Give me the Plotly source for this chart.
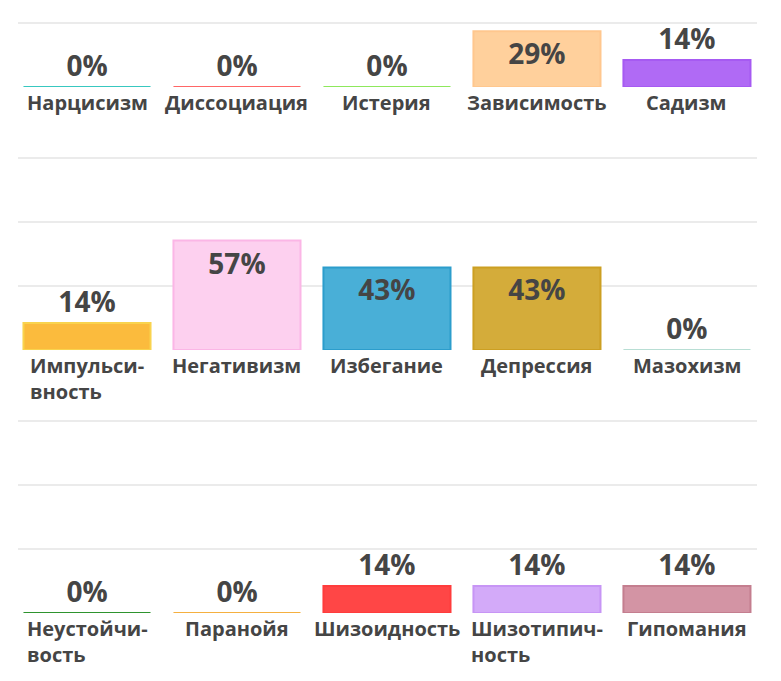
import plotly.graph_objects as go

# three rows of five scales, values in percent
row1_labels = ["Нарцисизм", "Диссоциация", "Истерия", "Зависимость", "Садизм"]
row1_values = [0, 0, 0, 29, 14]
row1_fill = ["#4fd3ca", "#ff7a7a", "#9bec6e", "#ffd09c", "#b06af5"]
row1_line = ["#38c8c0", "#ff6666", "#8ee85c", "#ffc78e", "#a65af2"]

row2_labels = ["Импульси-<br>вность", "Негативизм", "Избегание", "Депрессия", "Мазохизм"]
row2_values = [14, 57, 43, 43, 0]
row2_fill = ["#fbbb3d", "#fdd0ef", "#49afd7", "#d4ac3a", "#c8e8e0"]
row2_line = ["#f9d34e", "#fbb6e6", "#2c9dcc", "#cc9f22", "#b8ded4"]

row3_labels = ["Неустойчи-<br>вость", "Паранойя", "Шизоидность", "Шизотипич-<br>ность", "Гипомания"]
row3_values = [0, 0, 14, 14, 14]
row3_fill = ["#3c9c3c", "#f7b84c", "#ff4646", "#d3aaf9", "#d394a4"]
row3_line = ["#2e942e", "#f5b040", "#ff3c3c", "#c795f5", "#c47e8f"]

rows = [
    (row1_labels, row1_values, row1_fill, row1_line),
    (row2_labels, row2_values, row2_fill, row2_line),
    (row3_labels, row3_values, row3_fill, row3_line),
]

# the page body keeps its 8px margin, so work in screen px minus 8
OFF = 8
W, H = 781 - OFF, 681 - OFF
PX100 = 192  # pixels for 0..100 %
YMAX = 103   # a little headroom so the 100 % grid line is kept
# screen pixel baseline of each row and y range shown
row_base = [87, 350, 613]
row_range = [[0, (87 - OFF) / PX100 * 100], [0, YMAX], [0, YMAX]]

txt = "#454545"
fig = go.Figure()
layout = dict(
    width=W, height=H,
    margin=dict(l=0, r=0, t=0, b=0),
    paper_bgcolor="white", plot_bgcolor="white",
    showlegend=False,
    font=dict(family="Open Sans", color=txt),
    annotations=[],
)

for i, (labels, values, fill, line) in enumerate(rows):
    n = str(i + 1) if i else ""
    xs = list(range(len(values)))
    pos = ["inside" if v >= 25 else "outside" for v in values]
    fig.add_trace(go.Bar(
        x=xs, y=values,
        xaxis="x" + n, yaxis="y" + n,
        width=0.847,
        marker=dict(color=fill, line=dict(color=line, width=2)),
        text=[f"{v}%" for v in values],
        textposition=pos,
        insidetextanchor="end",
        constraintext="none",
        cliponaxis=False,
        textfont=dict(family="Open Sans", size=28, color=txt, weight="bold"),
        hoverinfo="skip",
    ))
    base = row_base[i]
    top = base - row_range[i][1] / 100 * PX100
    layout["xaxis" + n] = dict(
        domain=[(18 - OFF) / W, (757 - OFF) / W], range=[-0.46, 4.467],
        anchor="y" + n, showticklabels=False, showgrid=False,
        zeroline=False, fixedrange=True,
    )
    layout["yaxis" + n] = dict(
        domain=[1 - (base - OFF) / H, min(1, 1 - (top - OFF) / H)],
        range=row_range[i],
        anchor="x" + n, tickvals=[0, 100 / 3, 200 / 3, 100],
        showticklabels=False, gridcolor="#ebebeb", gridwidth=2,
        zeroline=False, fixedrange=True,
    )
    for x, lab in zip(xs, labels):
        layout["annotations"].append(dict(
            x=x, y=0, xref="x" + n, yref="y" + n,
            text=lab, showarrow=False, align="left",
            xanchor="center", yanchor="top", yshift=0,
            font=dict(family="Open Sans", size=20, color=txt, weight="bold"),
        ))

fig.update_layout(**layout)
fig.write_html("out.html")
